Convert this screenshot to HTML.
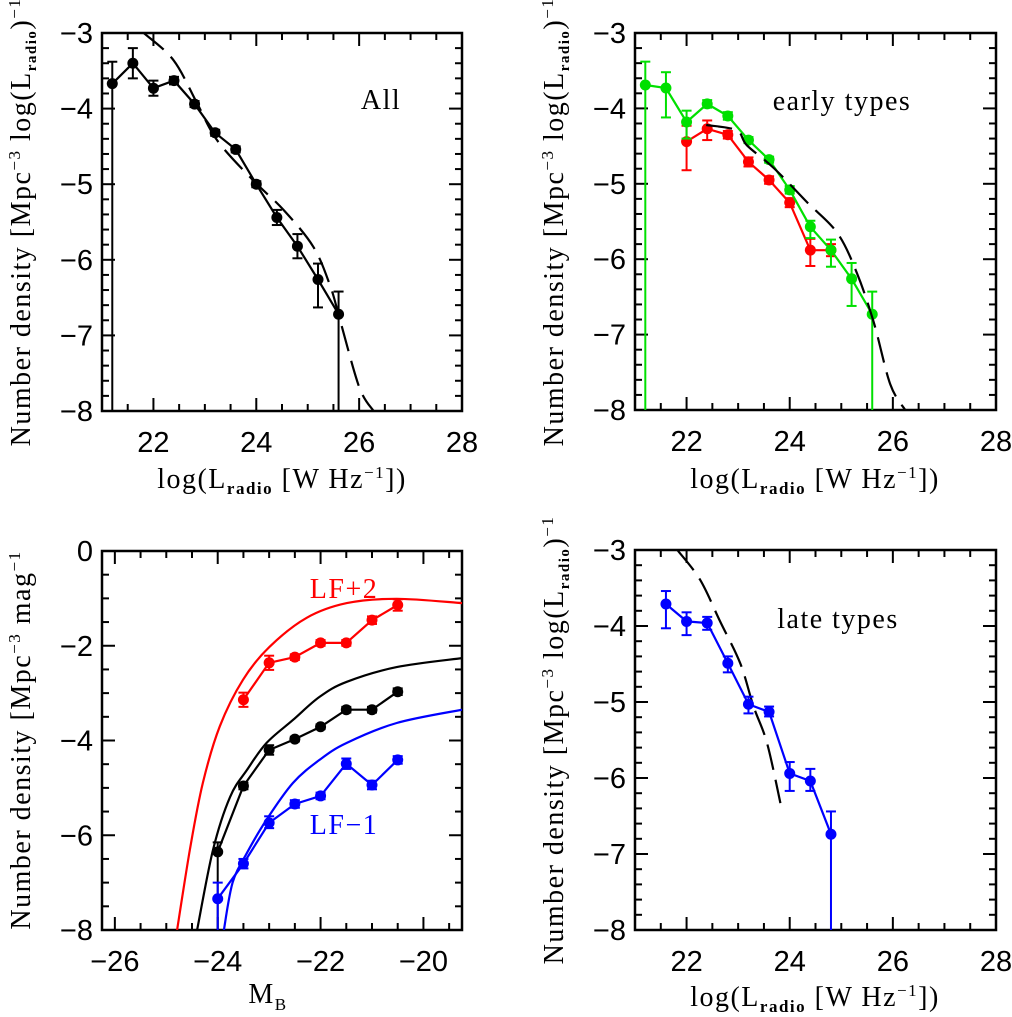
<!DOCTYPE html>
<html><head><meta charset="utf-8"><style>
body{margin:0;background:#fff;}
svg{display:block;font-family:"Liberation Sans",sans-serif;}
.tt{font-family:"Liberation Serif",serif;font-size:28px;letter-spacing:1.5px;}
</style></head><body>
<svg id="fig" width="1012" height="1017" viewBox="0 0 1012 1017" xmlns="http://www.w3.org/2000/svg"></svg>
<script>
// ---- Panel 1: All ----
const p1X=[21.2,21.6,22.0,22.4,22.8,23.2,23.6,24.0,24.4,24.8,25.2,25.6];
const p1Y=[-3.67,-3.4,-3.73,-3.63,-3.94,-4.32,-4.54,-5.0,-5.44,-5.82,-6.26,-6.72];
const p1Hi=[-3.38,-3.2,-3.63,-3.58,-3.9,-4.28,-4.5,-4.96,-5.34,-5.66,-6.05,-6.42];
const p1Lo=[-8,-3.6,-3.83,-3.68,-3.98,-4.36,-4.58,-5.04,-5.54,-5.98,-6.63,-8];
const p1FitX=[21.81,22.39,22.85,23.24,23.94,24.53,25.11,25.44,25.63,26.0,26.28];
const p1FitY=[-3.0,-3.36,-3.93,-4.42,-4.95,-5.34,-5.83,-6.35,-6.8,-7.68,-8.0];
// ---- Panel 2: early types ----
const p2GX=[21.2,21.6,22.0,22.4,22.8,23.2,23.6,24.0,24.4,24.8,25.2,25.6];
const p2GY=[-3.69,-3.73,-4.18,-3.94,-4.10,-4.42,-4.68,-5.08,-5.57,-5.88,-6.26,-6.73];
const p2GHi=[-3.38,-3.52,-4.03,-3.89,-4.05,-4.38,-4.64,-5.03,-5.49,-5.74,-6.05,-6.43];
const p2GLo=[-8,-4.12,-4.4,-3.99,-4.15,-4.46,-4.72,-5.13,-5.72,-6.1,-6.62,-8];
const p2RX=[22.0,22.4,22.8,23.2,23.6,24.0,24.4,24.8];
const p2RY=[-4.44,-4.27,-4.35,-4.71,-4.95,-5.25,-5.88,-5.88];
const p2RHi=[-4.23,-4.16,-4.3,-4.65,-4.9,-5.19,-5.73,-5.8];
const p2RLo=[-4.82,-4.42,-4.4,-4.77,-5.0,-5.31,-6.09,-5.96];
const p2FitX=[22.38,22.97,23.17,23.69,24.33,24.92,25.3,25.63,25.95,26.24];
const p2FitY=[-4.22,-4.29,-4.49,-4.79,-5.24,-5.65,-6.18,-6.84,-7.66,-8.0];
// ---- Panel 3: optical LF ----
const p3X=[-24.0,-23.5,-23.0,-22.5,-22.0,-21.5,-21.0,-20.5];
const p3RedX=[-23.5,-23.0,-22.5,-22.0,-21.5,-21.0,-20.5];
const p3RedY=[-3.14,-2.36,-2.24,-1.94,-1.94,-1.46,-1.14];
const p3RedErr=[0.15,0.15,0.06,0.06,0.06,0.08,0.12];
const p3BlackY=[-6.35,-4.96,-4.2,-3.97,-3.71,-3.35,-3.35,-2.97];
const p3BlackHi=[-6.15,-4.89,-4.1,-3.92,-3.66,-3.29,-3.29,-2.9];
const p3BlackLo=[-8,-5.03,-4.3,-4.02,-3.76,-3.41,-3.41,-3.04];
const p3BlueY=[-7.34,-6.6,-5.74,-5.34,-5.17,-4.49,-4.94,-4.41];
const p3BlueHi=[-7.0,-6.5,-5.6,-5.26,-5.1,-4.38,-4.85,-4.33];
const p3BlueLo=[-8,-6.7,-5.85,-5.42,-5.24,-4.6,-5.03,-4.49];
const p3RedCurveX=[-24.79,-24.54,-24.29,-23.96,-23.51,-22.99,-22.27,-21.49,-20.52,-19.25];
const p3RedCurveY=[-8,-6.3,-4.9,-3.7,-2.72,-2.02,-1.41,-1.1,-1.01,-1.1];
const p3BlackCurveX=[-24.4,-24.09,-23.76,-23.43,-23.05,-22.54,-22.02,-21.49,-20.52,-19.25];
const p3BlackCurveY=[-8,-6.3,-5.19,-4.62,-4.05,-3.57,-3.08,-2.76,-2.45,-2.26];
const p3BlueCurveX=[-23.88,-23.71,-23.43,-23.05,-22.54,-22.02,-21.49,-20.52,-19.25];
const p3BlueCurveY=[-8,-7.0,-6.37,-5.67,-4.9,-4.41,-4.05,-3.63,-3.35];
// ---- Panel 4: late types ----
const p4X=[21.6,22.0,22.4,22.8,23.2,23.6,24.0,24.4,24.8];
const p4Y=[-3.71,-3.94,-3.96,-4.49,-5.03,-5.13,-5.94,-6.04,-6.74];
const p4Hi=[-3.54,-3.82,-3.88,-4.4,-4.93,-5.06,-5.79,-5.88,-6.44];
const p4Lo=[-4.03,-4.12,-4.05,-4.61,-5.15,-5.19,-6.17,-6.17,-8];
const p4FitX=[21.82,22.26,22.65,23.04,23.3,23.56,23.82];
const p4FitY=[-3.0,-3.39,-3.94,-4.49,-5.06,-5.54,-6.33];

const NS="http://www.w3.org/2000/svg";
const svg=document.getElementById('fig');
function mk(tag,attrs,parent){const e=document.createElementNS(NS,tag);for(const k in attrs)e.setAttribute(k,attrs[k]);(parent||svg).appendChild(e);return e;}

function makePanel(o){
  const g=mk('g',{});
  
  
  const sx=v=>o.L+(v-o.x0)/(o.x1-o.x0)*(o.R-o.L);
  const sy=v=>o.T+(o.y1-v)/(o.y1-o.y0)*(o.B-o.T);
  const tg=mk('g',{stroke:'#000','stroke-width':2},g);
  
  
  const eps=1e-6;
  for(let v=Math.ceil(o.x0/o.xmin-eps)*o.xmin; v<=o.x1+eps; v+=o.xmin){
    const maj=Math.abs(v/o.xmaj-Math.round(v/o.xmaj))<1e-4; const len=maj?13:7; const x=sx(v);
    mk('line',{x1:x,x2:x,y1:o.B,y2:o.B-len},tg); mk('line',{x1:x,x2:x,y1:o.T,y2:o.T+len},tg);
    if(maj && x>o.L+5){const t=mk('text',{x:x,y:o.B+41,'text-anchor':'middle','font-size':29,fill:'#000',stroke:'none'},g);t.textContent=String(Math.round(v)).replace('-','\u2212');
      }
  }
  for(let v=Math.ceil(o.y0/o.ymin-eps)*o.ymin; v<=o.y1+eps; v+=o.ymin){
    const maj=Math.abs(v/o.ymaj-Math.round(v/o.ymaj))<1e-4; const len=maj?13:7; const y=sy(v);
    mk('line',{x1:o.L,x2:o.L+len,y1:y,y2:y},tg); mk('line',{x1:o.R,x2:o.R-len,y1:y,y2:y},tg);
    if(maj){const t=mk('text',{x:o.L-9,y:y+10,'text-anchor':'end','font-size':29,fill:'#000',stroke:'none'},g);t.textContent=String(Math.round(v)).replace('-','\u2212');
      }
  }
  const frame=mk('rect',{x:o.L,y:o.T,width:o.R-o.L,height:o.B-o.T,fill:'none',stroke:'#000','stroke-width':2.5},g);
  
  
  const clip=mk('clipPath',{id:'c'+o.id},g); mk('rect',{x:o.L,y:o.T,width:o.R-o.L,height:o.B-o.T},clip);
  const pg=mk('g',{'clip-path':'url(#c'+o.id+')'},g);
  return {g,pg,sx,sy};
}
function smoothPath(pts){
  let d='M'+pts[0][0].toFixed(1)+','+pts[0][1].toFixed(1);
  for(let i=0;i<pts.length-1;i++){
    const p0=pts[Math.max(0,i-1)],p1=pts[i],p2=pts[i+1],p3=pts[Math.min(pts.length-1,i+2)];
    const c1=[p1[0]+(p2[0]-p0[0])/6,p1[1]+(p2[1]-p0[1])/6];
    const c2=[p2[0]-(p3[0]-p1[0])/6,p2[1]-(p3[1]-p1[1])/6];
    d+='C'+c1.map(v=>v.toFixed(1))+' '+c2.map(v=>v.toFixed(1))+' '+p2.map(v=>v.toFixed(1));
  }
  return d;
}
function curve(api,xs,ys,color,dash,name,smooth){
  const pts=xs.map((x,i)=>[api.sx(x),api.sy(ys[i])]);
  const d=smooth?smoothPath(pts):pts.map((p,i)=>(i?'L':'M')+p[0].toFixed(1)+','+p[1].toFixed(1)).join('');
  const p=mk('path',{d:d,fill:'none',stroke:color,'stroke-width':2.2,'stroke-dasharray':dash||'none'},api.pg);
  
  
}
function series(api,xs,ys,hi,lo,color,name){
  curve(api,xs,ys,color,null,name+'-line',false);
  xs.forEach((x,i)=>{
    const cx=api.sx(x);
    const e=mk('g',{stroke:color,'stroke-width':2},api.pg);
    
    
    mk('line',{x1:cx,x2:cx,y1:api.sy(hi[i]),y2:api.sy(lo[i])},e);
    mk('line',{x1:cx-5,x2:cx+5,y1:api.sy(hi[i]),y2:api.sy(hi[i])},e);
    if(lo[i]>-7.99) mk('line',{x1:cx-5,x2:cx+5,y1:api.sy(lo[i]),y2:api.sy(lo[i])},e);
    const c=mk('circle',{cx:cx,cy:api.sy(ys[i]),r:5.5,fill:color},api.pg);
    
    
  });
}
function txt(s,x,y,attrs,name){const t=mk('text',Object.assign({x:x,y:y},attrs));t.innerHTML=s;
  return t;}

const radioCfg={x0:21.0,x1:28.0,y0:-8,y1:-3,xmin:0.5,xmaj:2,ymin:0.2,ymaj:1};
const a1=makePanel(Object.assign({id:1,name:'panel-all',L:102,R:462,T:33,B:411},radioCfg));
curve(a1,p1FitX,p1FitY,'#000','26 10','fit-dashed',true);
series(a1,p1X,p1Y,p1Hi,p1Lo,'#000','all');
const a2=makePanel(Object.assign({id:2,name:'panel-early',L:635,R:996,T:33,B:410},radioCfg));
series(a2,p2RX,p2RY,p2RHi,p2RLo,'#ff0000','early-red');
series(a2,p2GX,p2GY,p2GHi,p2GLo,'#00e000','early-green');
curve(a2,p2FitX,p2FitY,'#000','26 10','fit-dashed',true);
const a3=makePanel({id:3,name:'panel-optical-lf',L:102,R:462,T:551,B:930,x0:-26.25,x1:-19.25,y0:-8,y1:0,xmin:0.5,xmaj:2,ymin:0.5,ymaj:2});
curve(a3,p3RedCurveX,p3RedCurveY,'#ff0000',null,'lf-plus2-curve',true);
curve(a3,p3BlackCurveX,p3BlackCurveY,'#000',null,'lf-curve',true);
curve(a3,p3BlueCurveX,p3BlueCurveY,'#0000ff',null,'lf-minus1-curve',true);
series(a3,p3RedX,p3RedY,p3RedY.map((v,i)=>v+p3RedErr[i]),p3RedY.map((v,i)=>v-p3RedErr[i]),'#ff0000','red');
series(a3,p3X,p3BlackY,p3BlackHi,p3BlackLo,'#000','black');
series(a3,p3X,p3BlueY,p3BlueHi,p3BlueLo,'#0000ff','blue');
const a4=makePanel(Object.assign({id:4,name:'panel-late',L:635,R:996,T:550,B:930},radioCfg));
curve(a4,p4FitX,p4FitY,'#000','26 10','fit-dashed',true);
series(a4,p4X,p4Y,p4Hi,p4Lo,'#0000ff','late');

const xt='log(L<tspan font-size="17" dy="6" font-weight="bold">radio</tspan><tspan dy="-6"> [W Hz</tspan><tspan font-size="17" dy="-10">\u22121</tspan><tspan dy="10">])</tspan>';
const yt='Number density [Mpc<tspan font-size="17" dy="-10">\u22123</tspan><tspan dy="10"> log(L</tspan><tspan font-size="15" dy="6" font-weight="bold">radio</tspan><tspan dy="-6">)</tspan><tspan font-size="17" dy="-10">\u22121</tspan>';
txt(xt,282,488,{'text-anchor':'middle',class:'tt'},'x-axis-title');
txt(xt,815,488,{'text-anchor':'middle',class:'tt'},'x-axis-title');
txt(xt,815,1006,{'text-anchor':'middle',class:'tt'},'x-axis-title');
txt('M<tspan font-size="17" dy="7">B</tspan>',268,1003,{'text-anchor':'middle',class:'tt'},'x-axis-title');
txt(yt,0,0,{'text-anchor':'middle',class:'tt',transform:'translate(30,222) rotate(-90)'},'y-axis-title');
txt(yt,0,0,{'text-anchor':'middle',class:'tt',transform:'translate(563,222) rotate(-90)'},'y-axis-title');
txt(yt,0,0,{'text-anchor':'middle',class:'tt',transform:'translate(563,740) rotate(-90)'},'y-axis-title');
txt('Number density [Mpc<tspan font-size="17" dy="-10">\u22123</tspan><tspan dy="10"> mag</tspan><tspan font-size="17" dy="-10">\u22121</tspan>',0,0,{'text-anchor':'middle',class:'tt',transform:'translate(30,740) rotate(-90)'},'y-axis-title');
txt('All',381,109,{'text-anchor':'middle',class:'tt','font-size':27},'panel-label');
txt('early types',842,110,{'text-anchor':'middle',class:'tt','font-size':27},'panel-label');
txt('late types',838,628,{'text-anchor':'middle',class:'tt','font-size':27},'panel-label');
txt('LF+2',344,598,{'text-anchor':'middle',class:'tt',fill:'#ff0000'},'lf-plus2-label');
txt('LF\u22121',344,834,{'text-anchor':'middle',class:'tt',fill:'#0000ff'},'lf-minus1-label');
</script>
</body></html>
